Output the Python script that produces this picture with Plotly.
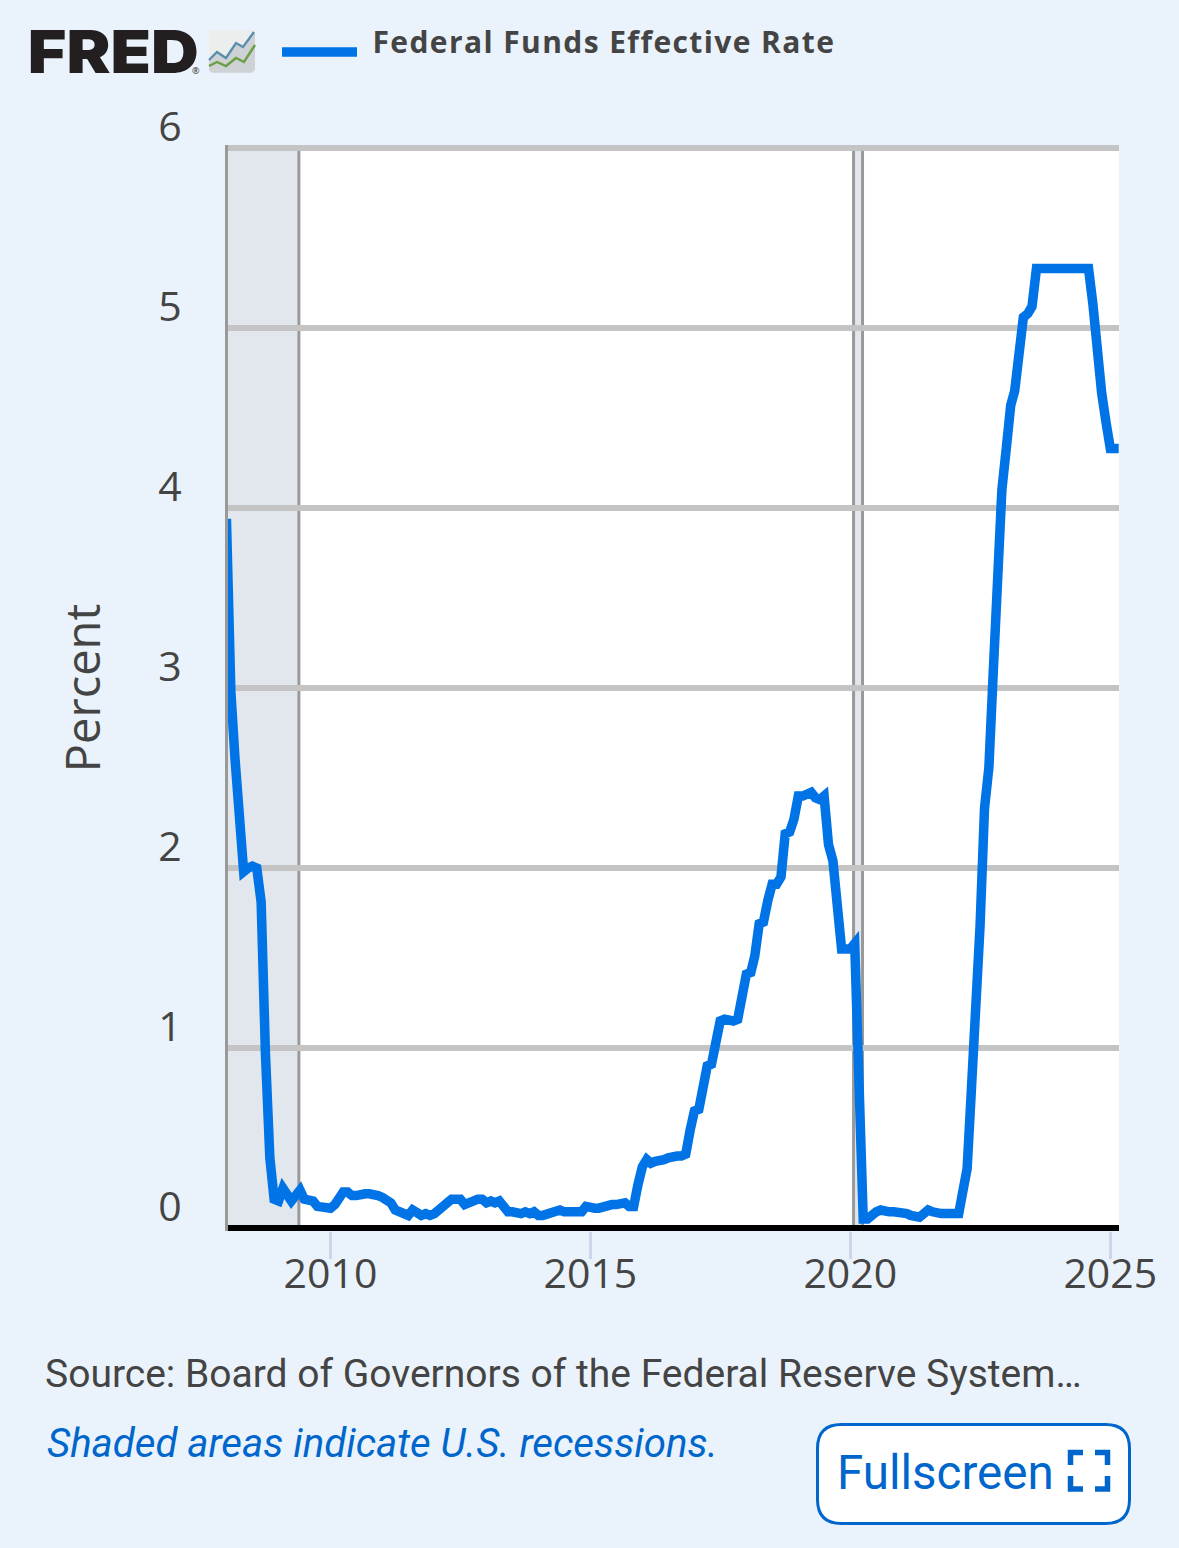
import pandas as pd
import plotly.graph_objects as go

months = pd.date_range("2008-01-01", "2025-03-01", freq="MS")
rate = [
    3.94, 2.98, 2.61, 2.28, 1.98, 2.00, 2.01, 2.00, 1.81, 0.97, 0.39, 0.16,
    0.15, 0.22, 0.18, 0.15, 0.18, 0.21, 0.16, 0.16, 0.15, 0.12, 0.12, 0.12,
    0.11, 0.13, 0.16, 0.20, 0.20, 0.18, 0.18, 0.19, 0.19, 0.19, 0.19, 0.18,
    0.17, 0.16, 0.14, 0.10, 0.09, 0.09, 0.07, 0.10, 0.08, 0.07, 0.08, 0.07,
    0.08, 0.10, 0.13, 0.14, 0.16, 0.16, 0.16, 0.13, 0.14, 0.16, 0.16, 0.16,
    0.14, 0.15, 0.14, 0.15, 0.11, 0.09, 0.09, 0.08, 0.08, 0.09, 0.08, 0.09,
    0.07, 0.07, 0.08, 0.09, 0.09, 0.10, 0.09, 0.09, 0.09, 0.09, 0.09, 0.12,
    0.11, 0.11, 0.11, 0.12, 0.12, 0.13, 0.13, 0.14, 0.14, 0.12, 0.12, 0.24,
    0.34, 0.38, 0.36, 0.37, 0.37, 0.38, 0.39, 0.40, 0.40, 0.40, 0.41, 0.54,
    0.65, 0.66, 0.79, 0.90, 0.91, 1.04, 1.15, 1.16, 1.15, 1.15, 1.16, 1.30,
    1.41, 1.42, 1.51, 1.69, 1.70, 1.82, 1.91, 1.91, 1.95, 2.19, 2.20, 2.27,
    2.40, 2.40, 2.41, 2.42, 2.39, 2.38, 2.40, 2.13, 2.04, 1.83, 1.55, 1.55,
    1.55, 1.58, 0.65, 0.05, 0.05, 0.08, 0.09, 0.10, 0.09, 0.09, 0.09, 0.09,
    0.09, 0.08, 0.07, 0.07, 0.06, 0.08, 0.10, 0.09, 0.08, 0.08, 0.08, 0.08,
    0.08, 0.08, 0.20, 0.33, 0.77, 1.21, 1.68, 2.33, 2.56, 3.08, 3.78, 4.10,
    4.33, 4.57, 4.65, 4.83, 5.06, 5.08, 5.12, 5.33, 5.33, 5.33, 5.33, 5.33,
    5.33, 5.33, 5.33, 5.33, 5.33, 5.33, 5.33, 5.33, 5.13, 4.83, 4.64, 4.48,
    4.33, 4.33, 4.33,
]
x_ticks = ["2010-01-01", "2015-01-01", "2020-01-01", "2025-01-01"]
x_labels = ["2010", "2015", "2020", "2025"]
y_ticks = [0, 1, 2, 3, 4, 5, 6]
recession_start = ["2007-12-01", "2020-01-24"]
recession_end = ["2009-05-24", "2020-03-27"]

W, H = 1179, 1548
L, R, T, B = 228, 60, 145, 317
INK = "#444444"
LINK = "#0066cc"
PAGE = "#eaf3fb"


def px(v):
    return (v - L) / (W - L - R)


def py(v):
    return 1 - (v - T) / (H - T - B)


def path(points, close=False):
    d = " ".join(("M" if i == 0 else "L") + f"{px(a):.5f},{py(b):.5f}" for i, (a, b) in enumerate(points))
    return d + (" Z" if close else "")


def round_rect(x0, y0, x1, y1, r):
    c = [
        ("M", x0 + r, y0), ("L", x1 - r, y0), ("Q", x1, y0, x1, y0 + r), ("L", x1, y1 - r),
        ("Q", x1, y1, x1 - r, y1), ("L", x0 + r, y1), ("Q", x0, y1, x0, y1 - r),
        ("L", x0, y0 + r), ("Q", x0, y0, x0 + r, y0),
    ]
    out = []
    for s in c:
        nums = s[1:]
        pairs = [f"{px(nums[i]):.5f},{py(nums[i + 1]):.5f}" for i in range(0, len(nums), 2)]
        out.append(s[0] + " ".join(pairs))
    return " ".join(out) + " Z"


def chrome_shape(d, fill=None, color=None, width=0):
    s = dict(type="path", xref="paper", yref="paper", path=d, layer="above",
             line=dict(width=width, color=color or "rgba(0,0,0,0)"))
    if fill:
        s["fillcolor"] = fill
    return s


shapes = []
for a, b in zip(recession_start, recession_end):
    shapes.append(dict(type="rect", xref="x", yref="paper", x0=a, x1=b, y0=0, y1=1, layer="below",
                       fillcolor="#e1e7ec", line=dict(width=0)))
    for edge in (a, b):
        shapes.append(dict(type="line", xref="x", yref="paper", x0=edge, x1=edge, y0=0, y1=1, layer="below",
                           line=dict(color="#999999", width=3)))

# legend key
shapes.append(chrome_shape(path([(282, 47.3), (357, 47.3), (357, 56.7), (282, 56.7)], True), fill="#0073e6"))

# logo icon
shapes.append(chrome_shape(round_rect(209, 30, 255, 72.7, 4), fill="#eceded"))
shapes.append(chrome_shape(path([(209, 60), (217, 52), (226, 58), (236, 43), (243, 47), (255, 32), (255, 70),
                                 (252, 72.7), (212, 72.7), (209, 70)], True), fill="#cfd2d4"))
shapes.append(chrome_shape(path([(209, 60), (217, 52), (226, 58), (236, 43), (243, 47), (254, 32)]),
                           color="#5b8fad", width=2.4))
shapes.append(chrome_shape(path([(209, 66), (217, 62), (226, 66), (236, 58), (244, 62), (255, 45)]),
                           color="#6a9f46", width=2.4))

# fullscreen button
shapes.append(chrome_shape(round_rect(817.5, 1424.5, 1129.5, 1523.5, 24), fill="#ffffff", color=LINK, width=3))
for d in (
    [(1070.5, 1465), (1070.5, 1452.5), (1083, 1452.5)],
    [(1095, 1452.5), (1107.5, 1452.5), (1107.5, 1465)],
    [(1070.5, 1476), (1070.5, 1489), (1083, 1489)],
    [(1095, 1489), (1107.5, 1489), (1107.5, 1476)],
):
    shapes.append(chrome_shape(path(d), color=LINK, width=5.5))


def note(text, x, y, size, color=INK, family="Roboto", anchor="left", **font_extra):
    return dict(text=text, xref="paper", yref="paper", x=px(x), y=py(y), xanchor=anchor, yanchor="middle",
                showarrow=False, font=dict(family=family, size=size, color=color, **font_extra))


annotations = [
    note("FRED", 35, 51.5, 59, color="#231f20", family="Inter", weight=900),
    note("®", 190, 70, 9, color="#231f20", family="Open Sans"),
    note("Federal Funds Effective Rate", 389.5, 41, 30, family="Open Sans", weight=700),
    note("Source: Board of Governors of the Federal Reserve System…", 43, 1374, 39),
    note("Shaded areas indicate U.S. recessions.", 45, 1443, 40.2, color=LINK, style="italic"),
    note("Fullscreen", 835, 1473, 47.5, color=LINK),
]

fig = go.Figure(
    go.Scatter(x=months, y=rate, mode="lines", name="Federal Funds Effective Rate",
               line=dict(color="#0073e6", width=9.5), showlegend=False, hoverinfo="x+y")
)
fig.update_layout(
    width=W, height=H, autosize=False, margin=dict(l=L, r=R, t=T, b=B, pad=0),
    paper_bgcolor=PAGE, plot_bgcolor="#ffffff", showlegend=False,
    font=dict(family="Open Sans", color=INK), shapes=shapes, annotations=annotations,
)
fig.update_xaxes(
    type="date", range=["2008-01-12", "2025-03-03"], tickmode="array", tickvals=x_ticks, ticktext=x_labels,
    showgrid=False, zeroline=False, showline=False, ticks="outside", ticklen=27, tickwidth=3, tickcolor="#ccd6eb",
    tickfont=dict(family="Open Sans", size=41, color=INK), ticklabelstandoff=-20,
)
fig.update_yaxes(
    range=[-0.0167, 6.0167], tickmode="array", tickvals=y_ticks, showgrid=True, gridcolor="#c4c4c4", gridwidth=6,
    zeroline=True, zerolinecolor="#000000", zerolinewidth=6, showline=True, linecolor="#999999", linewidth=3,
    ticks="", tickfont=dict(family="Open Sans", size=41, color=INK), ticklabelstandoff=35, ticklabelshift=-21,
    title=dict(text="Percent", font=dict(family="Open Sans", size=47, color=INK), standoff=43),
)
page_js = f"""
document.body.style.margin = '0';
document.body.style.background = '{PAGE}';
document.querySelectorAll('.annotation-text').forEach(function (t) {{
  if (t.textContent.indexOf('Federal Funds') === 0) t.style.letterSpacing = '1.4px';
  if (t.textContent === 'FRED') {{
    t.setAttribute('textLength', '171');
    t.setAttribute('lengthAdjust', 'spacingAndGlyphs');
  }}
}});
document.querySelectorAll('.js-line').forEach(function (l) {{ l.style.strokeMiterlimit = '8'; }});
"""
fig.write_html("out.html", config={"displayModeBar": False}, post_script=page_js)
